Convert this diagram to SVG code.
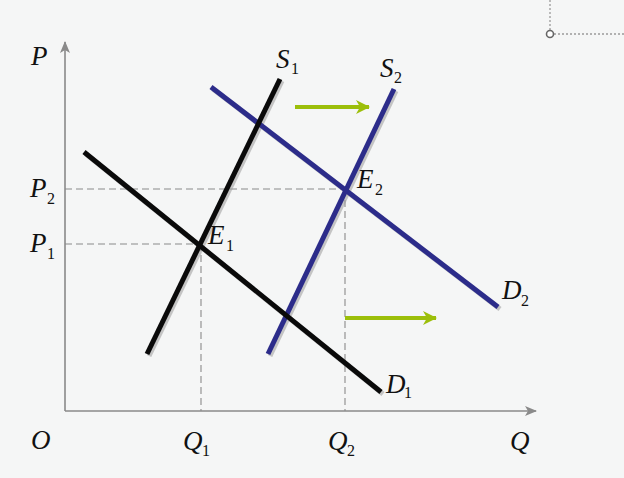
<svg xmlns="http://www.w3.org/2000/svg" width="624" height="478" viewBox="0 0 624 478">
<defs>
<style>
.lbl{font-family:"Liberation Serif","Times New Roman",serif;font-style:italic;font-size:27px;fill:#111}
.sub{font-family:"Liberation Serif","Times New Roman",serif;font-size:16px;fill:#111}
.axis{stroke:#8a8a8a;stroke-width:1.6;fill:none}
.dash{stroke:#8a8a8a;stroke-width:1.1;stroke-dasharray:7 4;fill:none}
.blk{stroke:#0a0a0a;stroke-width:5;fill:none}
.blu{stroke:#2c2c8a;stroke-width:5;fill:none}
.shd{stroke:#9a9a9a;stroke-width:5;fill:none;opacity:0.55}
.grn{stroke:#9cbf0a;stroke-width:4;fill:none}
.dot{stroke:#9a9a9a;stroke-width:1.3;stroke-dasharray:2 2;fill:none}
</style>
<marker id="ah" viewBox="0 0 12 10" refX="11" refY="5" markerWidth="12" markerHeight="10" markerUnits="userSpaceOnUse" orient="auto">
<path d="M0,0 L12,5 L0,10 L3,5 Z" fill="#8a8a8a"/>
</marker>
<marker id="gh" viewBox="0 0 14 14" refX="13" refY="7" markerWidth="14" markerHeight="14" markerUnits="userSpaceOnUse" orient="auto">
<path d="M0,0 L14,7 L0,14 L4,7 Z" fill="#9cbf0a"/>
</marker>
</defs>
<rect width="624" height="478" fill="#f5f6f6"/>
<g id="corner">
<line class="dot" x1="550" y1="0" x2="550" y2="30"/>
<line class="dot" x1="554" y1="34" x2="624" y2="34"/>
<circle cx="550" cy="34" r="3.5" fill="#fff" stroke="#666" stroke-width="1.6"/>
</g>
<g id="axes">
<line class="axis" x1="65" y1="411" x2="65" y2="42" marker-end="url(#ah)"/>
<line class="axis" x1="65" y1="411" x2="536" y2="411" marker-end="url(#ah)"/>
</g>
<g id="guides">
<line class="dash" x1="65" y1="189" x2="345" y2="189"/>
<line class="dash" x1="65" y1="244" x2="201" y2="244"/>
<line class="dash" x1="201" y1="244" x2="201" y2="411"/>
<line class="dash" x1="345" y1="189" x2="345" y2="411"/>
</g>
<g id="connectors">
<g id="shadows" transform="translate(2,2)">
<line class="shd" x1="147" y1="354" x2="280" y2="79"/>
<line class="shd" x1="84" y1="152" x2="381" y2="392"/>
<line class="shd" x1="268" y1="354" x2="394" y2="89"/>
<line class="shd" x1="211" y1="87" x2="498" y2="307"/>
</g>
<g id="D2"><line class="blu" x1="211" y1="87" x2="498" y2="307"/></g>
<g id="S2"><line class="blu" x1="268" y1="354" x2="394" y2="89"/></g>
<g id="D1"><line class="blk" x1="84" y1="152" x2="381" y2="392"/></g>
<g id="S1"><line class="blk" x1="147" y1="354" x2="280" y2="79"/></g>
<g id="shift-arrows">
<line class="grn" x1="295" y1="107" x2="369" y2="107" marker-end="url(#gh)"/>
<line class="grn" x1="345" y1="318" x2="436" y2="318" marker-end="url(#gh)"/>
</g>
</g>
<g id="labels">
<text class="lbl" x="31" y="65">P</text>
<text class="lbl" x="30" y="197">P</text><text class="sub" x="47" y="204">2</text>
<text class="lbl" x="30" y="252">P</text><text class="sub" x="47" y="259">1</text>
<text class="lbl" x="31" y="449">O</text>
<text class="lbl" x="183" y="450">Q</text><text class="sub" x="202" y="456">1</text>
<text class="lbl" x="328" y="450">Q</text><text class="sub" x="347" y="456">2</text>
<text class="lbl" x="510" y="450">Q</text>
<text class="lbl" x="276" y="68">S</text><text class="sub" x="291" y="74">1</text>
<text class="lbl" x="380" y="77">S</text><text class="sub" x="394" y="83">2</text>
<text class="lbl" x="208" y="244">E</text><text class="sub" x="226" y="251">1</text>
<text class="lbl" x="357" y="188">E</text><text class="sub" x="375" y="195">2</text>
<text class="lbl" x="386" y="393">D</text><text class="sub" x="404" y="398">1</text>
<text class="lbl" x="502" y="299">D</text><text class="sub" x="521" y="306">2</text>
</g>
</svg>
